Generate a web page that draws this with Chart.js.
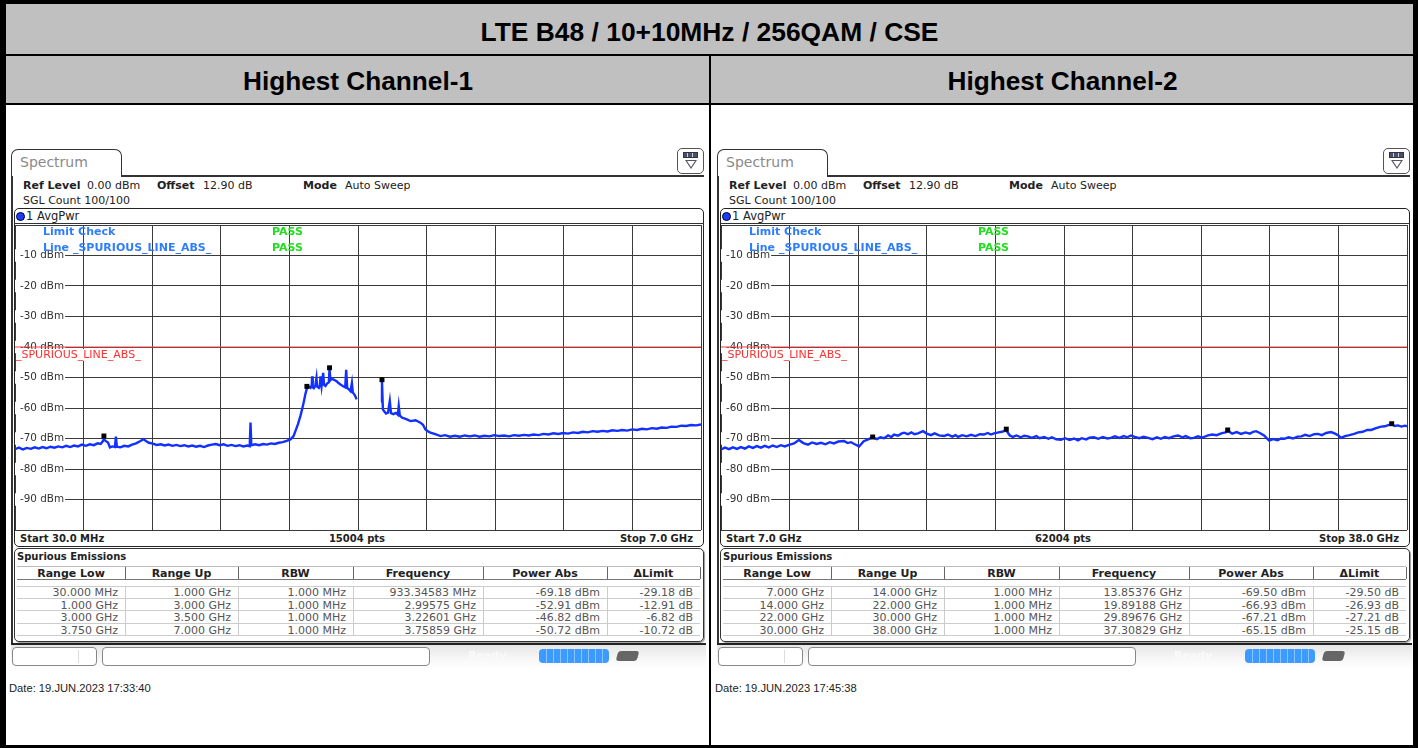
<!DOCTYPE html>
<html><head><meta charset="utf-8">
<script src="https://cdn.jsdelivr.net/npm/chart.js@4.4.1/dist/chart.umd.min.js"></script>
<style>
*{box-sizing:border-box}
body{margin:0;width:1418px;height:748px;overflow:hidden;background:#fff;position:relative;font-family:"DejaVu Sans",Verdana,sans-serif;font-size:11px;color:#222}
.a{position:absolute;white-space:nowrap}
.hd{font-family:"Liberation Sans",Arial,sans-serif;font-weight:bold;color:#000;text-align:center}
canvas{position:absolute}
</style></head><body>
<script>
// ---------------- DATA ----------------
const mainTitle = "LTE B48 / 10+10MHz / 256QAM / CSE";
const panelTitles = ["Highest Channel-1", "Highest Channel-2"];
const dates = ["Date: 19.JUN.2023  17:33:40", "Date: 19.JUN.2023  17:45:38"];
const startLabels = ["Start 30.0 MHz", "Start 7.0 GHz"];
const ptsLabels = ["15004 pts", "62004 pts"];
const stopLabels = ["Stop 7.0 GHz", "Stop 38.0 GHz"];
const spanStartMHz = [30, 7000];
const spanStopMHz = [7000, 38000];
const yTickValues = [0, -10, -20, -30, -40, -50, -60, -70, -80, -90, -100];
const limitLevel = -40;
const tableHeader = ["Range Low", "Range Up", "RBW", "Frequency", "Power Abs", "\u0394Limit"];

// Spurious table, panel 1 (MHz / dBm)
const rangeLow1 = [30, 1000, 3000, 3750];
const rangeUp1 = [1000, 3000, 3500, 7000];
const rbw1 = [1, 1, 1, 1];
const peakFreq1 = [933.34583, 2995.75, 3226.01, 3758.59];
const peakPow1 = [-69.18, -52.91, -46.82, -50.72];
// Spurious table, panel 2
const rangeLow2 = [7000, 14000, 22000, 30000];
const rangeUp2 = [14000, 22000, 30000, 38000];
const rbw2 = [1, 1, 1, 1];
const peakFreq2 = [13853.76, 19891.88, 29896.76, 37308.29];
const peakPow2 = [-69.50, -66.93, -67.21, -65.15];

// Trace 1: frequency (MHz) and level (dBm)
const freq1 = [30,70,110,150,190,230,270,310,350,390,430,470,510,550,590,630,670,710,750,790,830,870,900,920,933.35,950,975,995,1020,1045,1055,1065,1100,1140,1180,1220,1260,1300,1336,1360,1390,1430,1470,1510,1550,1590,1630,1670,1710,1750,1790,1830,1870,1910,1950,1990,2030,2070,2110,2150,2190,2230,2270,2310,2350,2390,2415,2423,2431,2470,2510,2550,2590,2630,2670,2710,2750,2790,2829,2860,2880,2905,2931,2950,2964,2980,2995.75,3015,3032,3045,3049,3055,3066,3080,3093,3100,3117,3128,3134,3145,3161,3170,3185,3200,3218,3226,3235,3250,3263,3285,3304,3320,3337,3360,3385,3395,3405,3425,3439,3453,3462,3479,3490,3500,3625,3750,3758.6,3768,3785,3800,3820,3838,3850,3875,3900,3920,3929,3940,3964,4000,4048,4100,4149,4175,4200,4225,4251,4300,4353,4400,4450,4500,4550,4600,4650,4700,4750,4800,4850,4900,4950,5000,5050,5100,5150,5200,5250,5300,5350,5400,5450,5500,5550,5600,5650,5700,5750,5800,5850,5900,5950,6000,6050,6100,6150,6200,6250,6300,6350,6400,6450,6500,6550,6600,6650,6700,6750,6800,6850,6900,6950,7000];
const level1 = [-73.5,-73.0,-73.6,-73.1,-73.4,-72.9,-73.3,-72.8,-73.2,-72.7,-73.0,-72.6,-72.9,-72.4,-72.8,-72.3,-72.6,-72.0,-72.4,-71.9,-72.2,-71.6,-71.8,-71.0,-70.2,-70.8,-71.3,-72.9,-72.6,-72.8,-69.4,-72.7,-72.9,-72.4,-72.6,-72.0,-71.6,-70.9,-70.2,-70.8,-71.4,-71.7,-72.1,-71.9,-72.3,-72.0,-72.4,-72.1,-72.5,-72.2,-72.6,-72.3,-72.7,-72.4,-72.8,-72.3,-72.0,-71.8,-72.2,-71.9,-72.4,-72.1,-72.5,-72.2,-72.6,-72.3,-72.5,-64.8,-72.2,-71.9,-72.2,-71.8,-72.0,-71.6,-71.8,-71.4,-71.2,-70.8,-70.3,-69.2,-67.5,-65.3,-62.5,-60.0,-58.0,-55.5,-53.6,-53.0,-53.4,-52.6,-49.6,-53.2,-53.5,-52.9,-50.1,-53.0,-53.4,-52.5,-49.6,-52.8,-48.5,-52.4,-52.8,-52.0,-51.6,-47.3,-50.9,-50.4,-50.6,-51.0,-51.4,-51.9,-52.3,-52.8,-53.2,-47.5,-53.4,-54.0,-54.5,-51.8,-54.9,-55.6,-56.3,-57.2,null,-58.0,-51.2,-60.5,-61.2,-61.8,-61.5,-57.7,-61.7,-62.0,-61.6,-62.2,-59.4,-62.5,-63.2,-63.6,-64.3,-64.0,-64.8,-65.5,-67.0,-67.6,-68.1,-68.6,-69.2,-68.9,-69.4,-69.1,-69.4,-69.0,-69.3,-69.0,-69.4,-69.1,-69.3,-68.9,-69.2,-69.0,-69.3,-68.9,-69.1,-68.8,-69.0,-68.7,-68.9,-68.5,-68.7,-68.3,-68.5,-68.2,-68.4,-68.0,-68.2,-67.8,-68.0,-67.6,-67.8,-67.5,-67.7,-67.3,-67.5,-67.2,-67.4,-67.0,-67.2,-66.8,-67.0,-66.6,-66.8,-66.4,-66.5,-66.1,-66.2,-65.8,-65.9,-65.6,-65.7,-65.4];

// Trace 2: frequency (GHz) and level (dBm)
const freq2 = [7.00,7.18,7.36,7.54,7.72,7.90,8.08,8.26,8.44,8.62,8.80,8.98,9.16,9.34,9.52,9.70,9.88,10.07,10.30,10.52,10.72,10.93,11.12,11.32,11.52,11.72,11.91,12.10,12.30,12.56,12.72,12.87,13.05,13.24,13.45,13.65,13.85,14.05,14.20,14.37,14.55,14.70,14.82,15.00,15.15,15.27,15.45,15.60,15.75,15.90,16.13,16.30,16.49,16.65,16.85,17.08,17.25,17.45,17.60,17.71,17.90,18.10,18.30,18.50,18.70,18.88,19.05,19.20,19.34,19.55,19.70,19.89,20.05,20.19,20.35,20.55,20.70,20.87,21.05,21.25,21.40,21.60,21.80,21.95,22.15,22.36,22.55,22.75,22.95,23.13,23.30,23.50,23.65,23.85,24.05,24.25,24.45,24.62,24.80,25.00,25.20,25.35,25.53,25.70,25.90,26.10,26.30,26.50,26.70,26.88,27.05,27.25,27.45,27.65,27.85,28.00,28.20,28.37,28.55,28.75,29.01,29.20,29.40,29.60,29.80,29.94,30.10,30.30,30.50,30.70,30.90,31.05,31.18,31.35,31.54,31.77,31.95,32.15,32.30,32.45,32.65,32.85,33.05,33.22,33.40,33.60,33.80,33.98,34.15,34.35,34.57,34.75,34.90,35.02,35.20,35.40,35.61,35.80,36.00,36.20,36.38,36.60,36.83,37.00,37.15,37.31,37.45,37.59,37.75,37.90,38.00];
const level2 = [-73.6,-73.0,-73.5,-72.9,-73.4,-72.8,-73.3,-72.6,-73.1,-72.5,-73.0,-72.4,-72.9,-72.3,-72.8,-72.2,-72.6,-72.1,-71.6,-70.5,-71.5,-72.0,-71.3,-71.8,-71.4,-71.9,-71.2,-71.6,-71.0,-70.8,-71.5,-71.2,-71.9,-72.6,-70.9,-70.3,-69.6,-70.2,-69.6,-69.9,-69.0,-69.5,-68.7,-69.1,-68.4,-68.1,-68.6,-68.0,-68.6,-68.3,-67.6,-68.4,-68.9,-68.3,-69.0,-69.2,-68.7,-69.4,-68.9,-69.5,-68.9,-69.3,-68.8,-69.2,-68.6,-68.7,-68.2,-68.7,-68.3,-68.0,-67.8,-67.3,-69.0,-69.5,-69.0,-69.6,-69.1,-69.3,-69.8,-69.2,-69.9,-69.5,-70.1,-69.6,-70.3,-70.4,-69.9,-70.5,-70.0,-70.6,-69.9,-70.3,-69.7,-69.6,-70.1,-69.5,-70.0,-69.8,-69.3,-69.8,-69.2,-69.6,-69.0,-69.5,-69.9,-69.4,-69.8,-70.2,-69.6,-70.1,-69.5,-69.9,-69.3,-69.0,-69.6,-69.2,-69.9,-69.8,-69.3,-69.7,-69.0,-68.7,-68.9,-68.3,-68.0,-67.6,-68.4,-67.9,-68.5,-68.0,-68.4,-67.8,-67.6,-68.2,-69.0,-70.7,-70.2,-70.6,-70.0,-70.1,-69.6,-70.0,-69.4,-69.3,-68.8,-69.2,-68.6,-68.5,-68.9,-68.2,-67.9,-68.4,-69.0,-69.8,-69.2,-68.9,-68.5,-68.0,-67.8,-67.2,-67.2,-66.6,-66.1,-66.0,-65.6,-65.3,-65.9,-65.7,-66.1,-65.8,-66.0];

// ---------------- LAYOUT HELPERS ----------------
function add(css, html, cls) {
  const d = document.createElement('div');
  d.className = 'a ' + (cls || '');
  d.style.cssText = css;
  if (html != null) d.innerHTML = html;
  document.body.appendChild(d);
  return d;
}
function fmtFreq(mhz) {
  return mhz < 1000 ? mhz.toFixed(3) + ' MHz' : (mhz / 1000).toFixed(3) + ' GHz';
}
function fmtPeak(mhz) {
  return mhz < 1000 ? mhz.toFixed(5) + ' MHz' : (mhz / 1000).toFixed(5) + ' GHz';
}
function zeroPad(s) { s.paddingLeft = 0; s.paddingRight = 0; s.paddingTop = 0; s.paddingBottom = 0; }

// outer table frame
add('left:0;top:0;width:1418px;height:748px;border:5px solid #000;border-width:4px 5px 3px 6px');
add('left:6px;top:4px;width:1407px;height:52px;background:#c0c0c0;border-bottom:2px solid #000');
add('left:6px;top:8px;width:1407px;line-height:48px;font-size:26.4px', mainTitle, 'hd');
add('left:6px;top:56px;width:1407px;height:49px;background:#c0c0c0;border-bottom:2px solid #000');
add('left:6px;top:57px;width:704px;height:49px;font-size:26.2px;line-height:49px', panelTitles[0], 'hd');
add('left:712px;top:57px;width:701px;height:49px;font-size:26.2px;line-height:49px', panelTitles[1], 'hd');
add('left:709px;top:56px;width:2px;height:692px;background:#000');

function panel(idx, X, chartLeft) {
  // tab & screen frame
  add(`left:${X+11}px;top:149px;width:111px;height:28px;border:1.5px solid #333;border-bottom:none;border-radius:7px 7px 0 0;background:#fff;color:#8a8a8a;font-size:14px;line-height:25px;padding-left:8px`, 'Spectrum');
  add(`left:${X+121}px;top:175px;width:${704-121}px;height:1.5px;background:#333`);
  add(`left:${X+11}px;top:176px;width:1.5px;height:468px;background:#333`);
  // icon
  add(`left:${X+677}px;top:148px;width:27px;height:26px;border:1.5px solid #555;border-radius:5px;background:#fff`,
    `<div class="a" style="left:5px;top:3px;width:15px;height:6px;background:#4a4f66;border:1px solid #334"></div>` +
    `<div class="a" style="left:9px;top:4px;width:1px;height:4px;background:#ccd"></div><div class="a" style="left:14px;top:4px;width:1px;height:4px;background:#ccd"></div>` +
    `<div class="a" style="left:7px;top:11px;width:0;height:0;border-left:6px solid transparent;border-right:6px solid transparent;border-top:9px solid #556"></div>` +
    `<div class="a" style="left:9px;top:12px;width:0;height:0;border-left:4px solid transparent;border-right:4px solid transparent;border-top:6px solid #fff"></div>`);
  // settings text
  add(`left:${X+23}px;top:179px;line-height:13px;font-weight:bold`, 'Ref Level');
  add(`left:${X+87}px;top:179px;line-height:13px`, '0.00 dBm');
  add(`left:${X+157}px;top:179px;line-height:13px;font-weight:bold`, 'Offset');
  add(`left:${X+203}px;top:179px;line-height:13px`, '12.90 dB');
  add(`left:${X+303}px;top:179px;line-height:13px;font-weight:bold`, 'Mode');
  add(`left:${X+345}px;top:179px;line-height:13px`, 'Auto Sweep');
  add(`left:${X+23}px;top:194px;line-height:13px`, 'SGL Count 100/100');
  // plot box
  add(`left:${X+14}px;top:208px;width:690px;height:339px;border:1.5px solid #222;border-radius:5px`);
  add(`left:${X+14}px;top:223px;width:690px;height:1px;background:#333`);
  add(`left:${X+16}px;top:212px;width:9px;height:9px;border-radius:50%;background:#1a3cff;border:1px solid #002`);
  add(`left:${X+26}px;top:209px;line-height:14px;font-size:11.5px`, '1 AvgPwr');
  add(`left:${X+20}px;top:532px;line-height:13px;font-size:10px;font-weight:bold`, startLabels[idx]);
  add(`left:${X+257}px;top:532px;width:200px;text-align:center;line-height:13px;font-size:10px;font-weight:bold`, ptsLabels[idx]);
  add(`left:${X+493}px;top:532px;width:200px;text-align:right;line-height:13px;font-size:10px;font-weight:bold`, stopLabels[idx]);

  // chart
  const cv = document.createElement('canvas');
  cv.width = 687; cv.height = 306;
  cv.style.left = chartLeft + 'px'; cv.style.top = '225px';
  document.body.appendChild(cv);
  const start = spanStartMHz[idx], stop = spanStopMHz[idx];
  const fr = idx === 0 ? freq1 : freq2.map(g => g * 1000);
  const lv = idx === 0 ? level1 : level2;
  const pf = idx === 0 ? peakFreq1 : peakFreq2;
  const pp = idx === 0 ? peakPow1 : peakPow2;
  new Chart(cv, {
    type: 'line',
    data: { datasets: [
      { type: 'scatter', data: pf.map((f, i) => ({ x: f, y: pp[i] })), pointStyle: 'rect', pointRadius: 3.5, backgroundColor: '#000', borderColor: '#000', borderWidth: 0 },
      { data: fr.map((f, i) => ({ x: f, y: lv[i] })), borderColor: '#1230ff', borderWidth: 2.4, pointRadius: 0, spanGaps: false, tension: 0 },
      { data: [{ x: start, y: limitLevel }, { x: stop, y: limitLevel }], borderColor: '#ff4040', borderWidth: 1, pointRadius: 0 }
    ]},
    options: {
      responsive: false, animation: false, events: [],
      layout: { autoPadding: false, padding: { left: 0, top: 0, right: 1, bottom: 1 } },
      plugins: { legend: { display: false }, tooltip: { enabled: false } },
      scales: {
        x: {
          type: 'linear', min: start, max: stop,
          afterFit: s => { s.height = 0; zeroPad(s); },
          afterBuildTicks: s => { const t = []; for (let i = 0; i <= 10; i++) t.push({ value: start + i * (stop - start) / 10 }); s.ticks = t; },
          ticks: { display: false },
          grid: { color: '#3a3a3a', lineWidth: 1, drawTicks: false },
          border: { display: false }
        },
        y: {
          type: 'linear', min: -100, max: 0,
          afterFit: s => { s.width = 0; zeroPad(s); },
          afterBuildTicks: s => { s.ticks = yTickValues.map(v => ({ value: v })); },
          ticks: {
            mirror: true, padding: 5, color: '#333',
            font: { family: 'DejaVu Sans', size: 10.4 },
            callback: v => (v === 0 || v === -100) ? '' : v + ' dBm',
            showLabelBackdrop: true,
            backdropColor: c => (c.tick && (c.tick.value === 0 || c.tick.value === -100)) ? 'rgba(0,0,0,0)' : '#fff',
            backdropPadding: { left: 5, right: 1, top: 0, bottom: 0 }
          },
          grid: { color: '#3a3a3a', lineWidth: 1, drawTicks: false },
          border: { display: false }
        }
      }
    }
  });

  // overlays inside plot
  add(`left:${X+43}px;top:225px;line-height:14px;font-weight:bold;color:#2f7dff`, 'Limit Check');
  add(`left:${X+272}px;top:225px;line-height:14px;font-weight:bold;color:#22dd22`, 'PASS');
  add(`left:${X+43}px;top:241px;line-height:14px;font-weight:bold;color:#2f7dff`, 'Line _SPURIOUS_LINE_ABS_');
  add(`left:${X+272}px;top:241px;line-height:14px;font-weight:bold;color:#22dd22`, 'PASS');
  add(`left:${X+16}px;top:349px;line-height:12px;font-size:11px;color:#ff3030;background:#fff;padding-right:2px`, '_SPURIOUS_LINE_ABS_');

  // spurious table
  add(`left:${X+14}px;top:548px;width:690px;height:94px;border:1.5px solid #333;border-radius:5px;box-shadow:1px 1px 1px #999`);
  add(`left:${X+17}px;top:550px;line-height:13px;font-size:10px;font-weight:bold`, 'Spurious Emissions');
  const cols = [17, 125, 238, 353, 483, 607, 700];
  add(`left:${X+17}px;top:566px;width:683px;height:14px;border-bottom:1px solid #777;border-top:1px solid #bbb`);
  const rl = idx === 0 ? rangeLow1 : rangeLow2, ru = idx === 0 ? rangeUp1 : rangeUp2, rb = idx === 0 ? rbw1 : rbw2;
  for (let c = 0; c < 6; c++) {
    add(`left:${X+cols[c]}px;top:567px;width:${cols[c+1]-cols[c]}px;text-align:center;line-height:13px;font-weight:bold;color:#222`, tableHeader[c]);
    if (c > 0) add(`left:${X+cols[c]}px;top:567px;width:1px;height:12px;background:#666`);
    if (c > 0) add(`left:${X+cols[c]}px;top:586px;width:1px;height:50px;background:#ccc`);
  }
  add(`left:${X+cols[6]}px;top:567px;width:1px;height:12px;background:#666`);
  for (let r = 0; r < 4; r++) {
    const y = 585.5 + r * 12.5;
    add(`left:${X+17}px;top:${y}px;width:683px;height:13px;border-bottom:1px solid #ccc;${r===0?'border-top:1px solid #ccc;':''}`);
    const vals = [fmtFreq(rl[r]), fmtFreq(ru[r]), fmtFreq(rb[r]), fmtPeak(pf[r]), pp[r].toFixed(2) + ' dBm', (pp[r] - limitLevel).toFixed(2) + ' dB'];
    for (let c = 0; c < 6; c++) {
      add(`left:${X+cols[c]}px;top:${y+0.5}px;width:${cols[c+1]-cols[c]-7}px;text-align:right;line-height:13px;color:#555`, vals[c]);
    }
  }
  // bottom status bar
  add(`left:${X+11}px;top:643px;width:695px;height:26px;border-top:2px solid #222;background:linear-gradient(#e6e6e6,#f8f8f8 60%,#ffffff)`);
  add(`left:${X+12}px;top:647px;width:85px;height:19px;border:1px solid #888;border-radius:4px;background:#fff`);
  add(`left:${X+78}px;top:650px;width:1px;height:13px;background:#ddd`);
  add(`left:${X+102}px;top:647px;width:328px;height:19px;border:1px solid #888;border-radius:4px;background:#fff`);
  add(`left:${X+468}px;top:649px;line-height:14px;font-weight:bold;color:#fafafa`, 'Ready');
  let seg = '';
  for (let s = 1; s < 10; s++) seg += `<div class="a" style="left:${s*7}px;top:0;width:1px;height:14px;background:#8cc4ff"></div>`;
  add(`left:${X+539}px;top:649px;width:70px;height:14px;border-radius:4px;background:#3d9bff`, seg);
  add(`left:${X+617}px;top:651px;width:21px;height:10px;border-radius:3px;background:#666;transform:skewX(-15deg)`);
  // date
  add(`left:${X+9}px;top:681px;line-height:14px;font-family:'Liberation Sans',Arial,sans-serif;font-size:11.2px;color:#222`, dates[idx]);
}
panel(0, 0, 15);
panel(1, 706, 721);
</script>
</body></html>
